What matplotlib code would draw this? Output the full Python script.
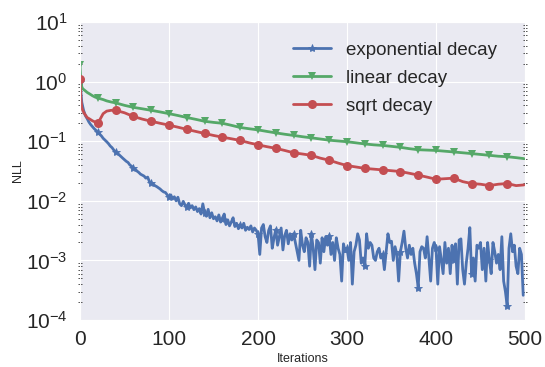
import matplotlib
matplotlib.use("Agg")
import matplotlib.pyplot as plt
import seaborn as sns
from matplotlib.ticker import LogLocator, LogFormatterMathtext, NullFormatter

sns.set_style("darkgrid")
plt.rcParams["font.family"] = ["Liberation Sans", "DejaVu Sans"]
plt.rcParams["mathtext.fontset"] = "custom"
plt.rcParams["mathtext.rm"] = "Liberation Sans"
plt.rcParams["mathtext.default"] = "regular"

# exponential decay: one value every 2 iterations (0..498)
exp_iters = list(range(0, 500, 2))
exp_decay = [
    1.0, 0.45, 0.33, 0.27, 0.24, 0.21, 0.19, 0.175, 0.162, 0.152,
    0.141, 0.132, 0.123, 0.112, 0.105, 0.098, 0.091, 0.083, 0.078, 0.071,
    0.066, 0.063, 0.059, 0.055, 0.052, 0.049, 0.046, 0.044, 0.040, 0.038,
    0.0355, 0.034, 0.0316, 0.030, 0.028, 0.027, 0.026, 0.024, 0.025, 0.021,
    0.020, 0.0195, 0.018, 0.0174, 0.0166, 0.0158, 0.0148, 0.0141, 0.0138, 0.0126,
    0.0117, 0.0126, 0.0107, 0.0117, 0.010, 0.0115, 0.0089, 0.0083, 0.0098, 0.0085,
    0.0079, 0.0091, 0.0076, 0.0083, 0.0071, 0.0079, 0.0066, 0.0074, 0.0060, 0.0089,
    0.0063, 0.0055, 0.0072, 0.0052, 0.0063, 0.0050, 0.0054, 0.0046, 0.0058, 0.0044,
    0.0050, 0.0060, 0.0040, 0.0048, 0.0038, 0.0044, 0.0052, 0.0037, 0.0042, 0.0034,
    0.0040, 0.0035, 0.0042, 0.0032, 0.0036, 0.0033, 0.0038, 0.0030, 0.0035, 0.0032,
    0.0028, 0.00126, 0.0035, 0.0040, 0.0025, 0.0020, 0.0032, 0.0038, 0.0016, 0.0024,
    0.0033, 0.0018, 0.0025, 0.0035, 0.0015, 0.0026, 0.0032, 0.0019, 0.0028, 0.0022,
    0.0028, 0.0020, 0.0014, 0.0010, 0.0032, 0.0018, 0.0014, 0.0024, 0.0020, 0.0008,
    0.0028, 0.0016, 0.0007, 0.0022, 0.0020, 0.0009, 0.0024, 0.0014, 0.0025, 0.0018,
    0.0026, 0.00126, 0.0020, 0.0010, 0.0024, 0.0016, 0.00126, 0.00045, 0.0019, 0.0014,
    0.0016, 0.0010, 0.0020, 0.0004, 0.0014, 0.0018, 0.0028, 0.0022, 0.0009, 0.0011,
    0.0008, 0.0028, 0.0016, 0.0020, 0.0018, 0.0011, 0.0010, 0.0014, 0.0016, 0.0011,
    0.00126, 0.0007, 0.0014, 0.0028, 0.0020, 0.0021, 0.0010, 0.0017, 0.00126, 0.00045,
    0.0014, 0.0020, 0.0031, 0.0016, 0.0011, 0.0018, 0.00126, 0.0016, 0.0009, 0.0006,
    0.00035, 0.0014, 0.0017, 0.0016, 0.0011, 0.0025, 0.0011, 0.00045, 0.0016, 0.0020,
    0.0016, 0.0004, 0.0017, 0.0010, 0.0006, 0.0020, 0.0009, 0.0016, 0.0006, 0.0018,
    0.0010, 0.0019, 0.0004, 0.0022, 0.0023, 0.0007, 0.0004, 0.0009, 0.0016, 0.00355,
    0.0006, 0.0011, 0.00045, 0.0018, 0.0016, 0.0020, 0.0007, 0.0016, 0.00045, 0.0020,
    0.0010, 0.0006, 0.0020, 0.0014, 0.0009, 0.00126, 0.0007, 0.0025, 0.00045, 0.0003,
    0.00017, 0.0016, 0.0028, 0.0014, 0.0018, 0.0008, 0.0006, 0.0016, 0.00126, 0.00026,
]

# linear and sqrt decay are smooth, so a coarser grid is enough
smooth_iters = [0, 1, 2, 3, 5, 8, 11, 14, 17, 20, 23, 26, 30, 35, 40,
                50, 60, 70, 80, 90, 100, 110, 120, 130, 140, 150, 160, 170, 180, 190,
                200, 210, 220, 230, 240, 250, 260, 270, 280, 290, 300, 310, 320, 330,
                340, 350, 360, 370, 380, 390, 400, 410, 420, 430, 440, 450, 460, 470,
                480, 490, 499]
linear_decay = [1.9, 1.0, 0.82, 0.76, 0.72, 0.66, 0.62, 0.58, 0.55, 0.53, 0.515, 0.50,
                0.475, 0.455, 0.44,
                0.40, 0.37, 0.35, 0.33, 0.31, 0.29, 0.27, 0.25, 0.233, 0.216, 0.207,
                0.20, 0.185, 0.17, 0.162, 0.155, 0.146, 0.138, 0.131, 0.125, 0.119,
                0.114, 0.109, 0.104, 0.101, 0.098, 0.094, 0.090, 0.087, 0.085, 0.082,
                0.079, 0.075, 0.072, 0.071, 0.070, 0.068, 0.066, 0.064, 0.062, 0.060,
                0.058, 0.056, 0.055, 0.053, 0.051]
sqrt_decay = [1.1, 0.5, 0.37, 0.33, 0.29, 0.25, 0.235, 0.22, 0.21, 0.20, 0.24, 0.29,
              0.32, 0.33, 0.33,
              0.30, 0.26, 0.235, 0.216, 0.20, 0.186, 0.172, 0.158, 0.146, 0.135, 0.125,
              0.117, 0.110, 0.103, 0.094, 0.087, 0.081, 0.076, 0.070, 0.064, 0.061,
              0.058, 0.052, 0.048, 0.043, 0.039, 0.037, 0.035, 0.034, 0.033, 0.032,
              0.031, 0.029, 0.027, 0.025, 0.023, 0.0235, 0.024, 0.021, 0.0195, 0.019,
              0.018, 0.019, 0.0195, 0.018, 0.0185]

blue = "#4C72B0"
green = "#55A868"
red = "#C44E52"


def marks(iters):
    # a marker every 20 iterations
    return [i for i, it in enumerate(iters) if it % 20 == 0]


fig = plt.figure(figsize=(5.45, 3.67), dpi=100)
ax = fig.add_axes([0.1468, 0.128, 0.8165, 0.812])

ax.plot(exp_iters, exp_decay, color=blue, lw=2, marker="*", ms=6, mew=0.6,
        markevery=marks(exp_iters), label="exponential decay")
ax.plot(smooth_iters, linear_decay, color=green, lw=2, marker="v", ms=6, mew=0,
        markevery=marks(smooth_iters), label="linear decay")
ax.plot(smooth_iters, sqrt_decay, color=red, lw=2, marker="o", ms=6.5, mew=0,
        markevery=marks(smooth_iters), label="sqrt decay")

ax.set_yscale("log")
ax.set_ylim(1e-4, 1e1)
ax.set_xlim(0, 500)
ax.set_xticks([0, 100, 200, 300, 400, 500])
ax.yaxis.set_major_locator(LogLocator(base=10))
ax.yaxis.set_major_formatter(LogFormatterMathtext())
ax.yaxis.set_minor_locator(LogLocator(base=10, subs=range(2, 10)))
ax.yaxis.set_minor_formatter(NullFormatter())

ax.tick_params(axis="both", which="major", labelsize=15, length=0, colors="#262626")
ax.tick_params(axis="x", which="major", pad=7)
ax.tick_params(axis="y", which="major", pad=9)
ax.tick_params(axis="y", which="minor", left=True, right=True, length=2.5, width=0.6,
               color="#333333", direction="inout")

ax.set_xlabel("Iterations", fontsize=9, color="#262626", labelpad=3)
ax.set_ylabel("NLL", fontsize=9, color="#262626", labelpad=1)

ax.legend(loc="upper right", bbox_to_anchor=(0.975, 0.99), fontsize=13.5, frameon=False,
          numpoints=1, handlelength=2.0, handletextpad=0.8, labelspacing=0.58)

fig.savefig("out.png", dpi=100)
